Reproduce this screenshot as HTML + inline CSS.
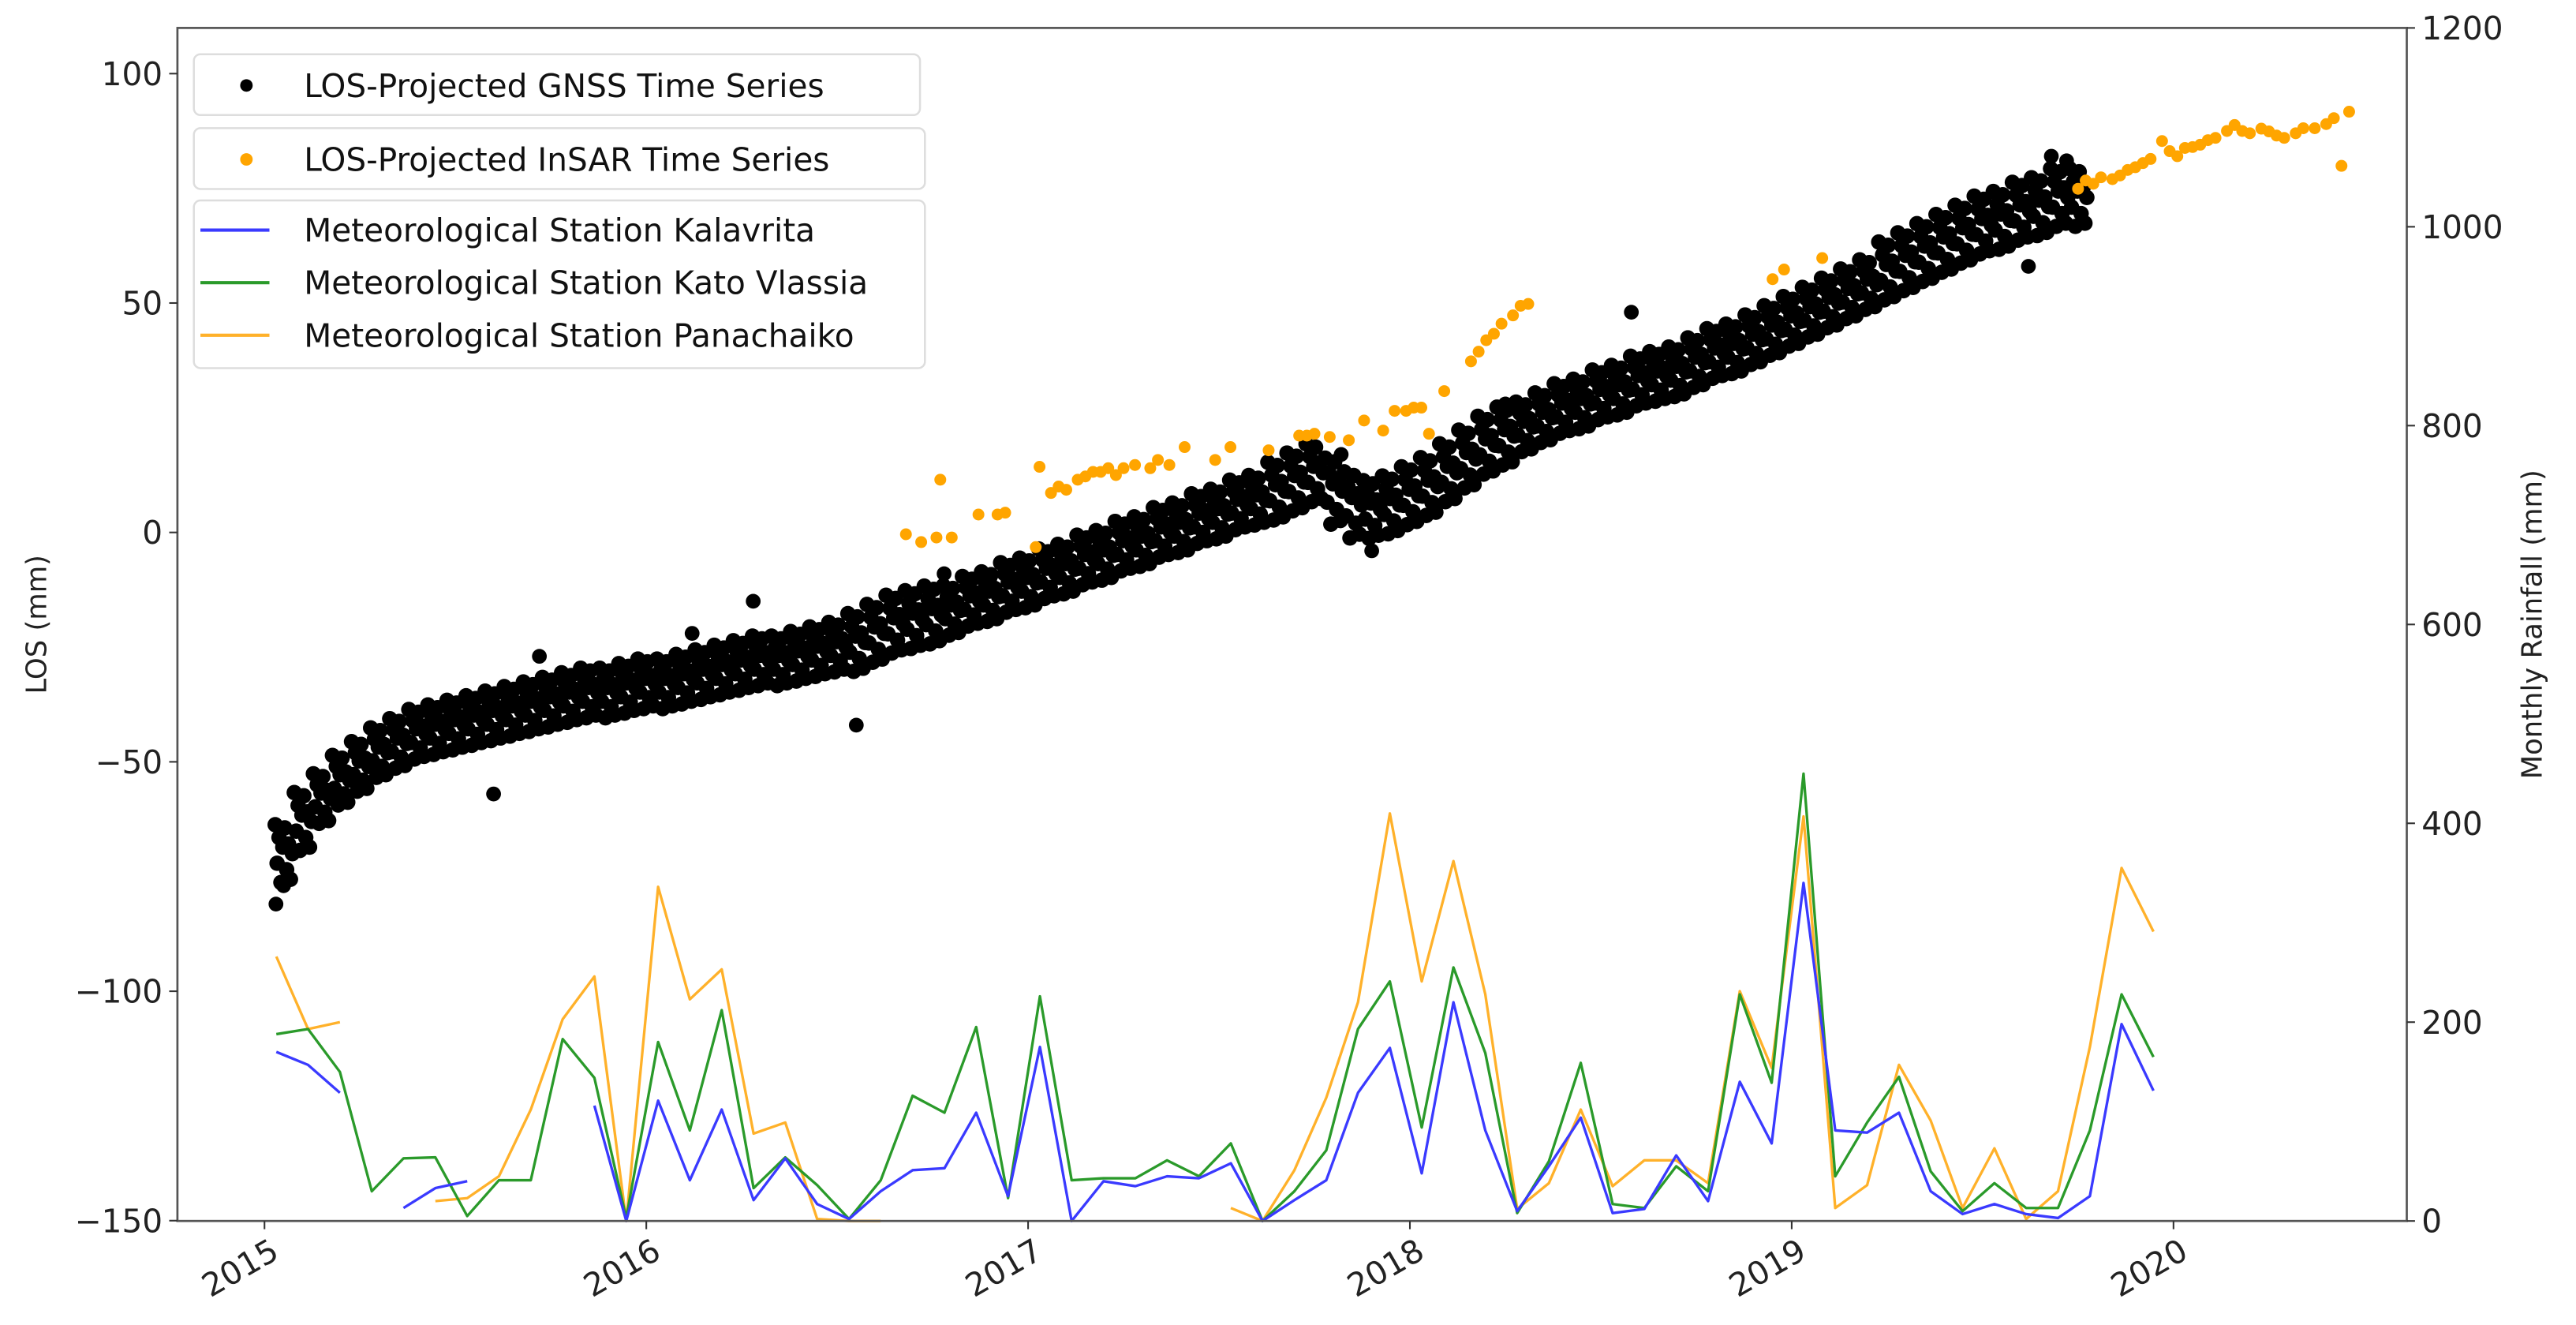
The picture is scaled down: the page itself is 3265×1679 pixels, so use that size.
<!DOCTYPE html>
<html><head><meta charset="utf-8"><style>
html,body{margin:0;padding:0;background:#fff;}
svg{display:block;font-family:"DejaVu Sans","Liberation Sans",sans-serif;}
</style></head><body>
<svg id="chart" width="3265" height="1679" viewBox="0 0 1568 806.3" preserveAspectRatio="none" xmlns="http://www.w3.org/2000/svg">
<rect width="1568" height="806.3" fill="#fff"/>
<g id="marks"></g>
<g id="axes"></g>
<g id="legends"></g>
</svg>
<script>
// ---- data ----
const kalavrita = [170,157,129,null,13,33,40,null,null,null,116,0,121,41,112,21,63,17,2,30,51,53,109,25,175,0,40,35,45,43,58,0,21,41,129,174,48,220,91,10,55,104,8,12,66,20,140,78,340,91,89,109,30,7,17,7,3,25,198,131];
const katoVlassia = [188,193,150,30,63,64,5,41,41,183,144,3,180,91,212,33,64,36,2,41,126,109,195,23,226,41,43,43,61,45,78,0,30,71,193,241,94,255,169,8,60,159,17,13,55,30,228,139,450,45,99,145,50,10,38,13,13,91,228,165];
const panachaiko = [266,193,200,null,null,20,23,45,112,203,246,0,336,223,253,88,99,2,0,0,null,null,null,null,null,null,null,null,null,null,13,0,51,124,220,410,241,362,228,12,38,112,35,61,61,38,231,154,407,13,36,157,101,13,73,2,30,175,355,291];
const gnssStart = 2015.05, gnssStep = 0.05;
const gnssMid = [-70,-63,-58,-54,-51,-48,-46,-44,-43,-42,-41,-40,-39,-38,-37,-36,-35,-35,-34,-33,-33,-32,-31,-30,-29,-28,-28,-27,-26,-25,-24,-22,-20,-19,-18,-17,-15,-14,-12,-11,-9,-8,-6,-5,-3,-2,0,1,3,4,6,7,9,11,13,9,6,5,6,8,10,13,16,19,21,23,25,27,28,30,31,33,34,35,37,39,40,42,44,46,48,50,52,54,57,59,61,63,65,67,68,70,71,73,73];
const gnssSpread = [7,7,6,6,6,6,6,6,6,6,6,6,6,6,6,6,6,6,6,6,6,6,6,6,6,6,6,6,6,6,7,7,7,7,7,6,6,6,6,6,6,6,6,6,6,6,6,6,6,6,6,6,7,7,7,8,8,7,7,7,7,7,7,7,7,6,6,6,6,6,6,6,6,6,6,6,6,6,6,6,6,6,6,6,7,7,7,7,7,7,7,7,7,7,7];
const gnssOutT = [2015.03,2015.05,2015.72,2016.12,2016.28,2016.55,2016.78,2017.9,2018.25,2018.58,2019.62,2019.68,2019.72,2017.82,2015.6,2016.9];
const gnssOutV = [-81,-77,-27,-22,-15,-42,-9,-4,28,48,58,82,81,17,-57,-10];
const insarT = [2016.68,2016.72,2016.76,2016.80,2016.77,2016.87,2016.92,2016.94,2017.02,2017.03,2017.06,2017.08,2017.10,2017.13,2017.15,2017.17,2017.19,2017.21,2017.23,2017.25,2017.28,2017.32,2017.34,2017.37,2017.41,2017.49,2017.53,2017.63,2017.71,2017.73,2017.75,2017.79,2017.84,2017.88,2017.93,2017.96,2017.99,2018.01,2018.03,2018.05,2018.09,2018.16,2018.18,2018.20,2018.22,2018.24,2018.27,2018.29,2018.31,2018.95,2018.98,2019.08,2019.75,2019.77,2019.79,2019.81,2019.84,2019.86,2019.88,2019.90,2019.92,2019.94,2019.97,2019.99,2020.01,2020.03,2020.05,2020.07,2020.09,2020.11,2020.14,2020.16,2020.18,2020.20,2020.23,2020.25,2020.27,2020.29,2020.32,2020.34,2020.37,2020.40,2020.42,2020.44,2020.46];
const insarV = [-0.4,-2.1,-1.1,-1.1,11.5,3.9,3.9,4.3,-3.2,14.3,8.6,10.0,9.3,11.5,12.2,13.2,13.2,14.0,12.5,14.0,14.7,14.0,15.8,14.7,18.6,15.8,18.6,17.9,21.1,21.1,21.5,20.8,20.1,24.4,22.2,26.5,26.5,27.2,27.2,21.5,30.8,37.3,39.4,41.9,43.3,45.5,47.3,49.4,49.8,55.2,57.3,59.8,74.9,76.7,76.0,77.4,77.0,77.8,79.0,79.6,80.5,81.4,85.3,83.1,82.0,83.8,84.0,84.5,85.5,86.0,87.5,88.8,87.5,87.0,88.0,87.4,86.5,86.0,87.0,88.1,88.1,89.0,90.3,79.9,91.7];
const leftTicks = [100,50,0,-50,-100,-150];
const rightTicks = [0,200,400,600,800,1000,1200];
const yearTicks = [2015,2016,2017,2018,2019,2020];

// ---- axes functions ----
const PL=108, PR=1465, PT=17, PB=743;
const xs = t => 161 + (t-2015)*232.4;
const yl = v => 324 - v*2.792;
const yr = v => 743 - v*0.605;
const NS='http://www.w3.org/2000/svg';
function mk(tag, attrs, parent){const e=document.createElementNS(NS,tag);for(const k in attrs)e.setAttribute(k,attrs[k]);parent.appendChild(e);return e;}
const marks=document.getElementById('marks'), axes=document.getElementById('axes'), leg=document.getElementById('legends');

// GNSS
const gG = mk('g',{},marks);


const jit = [[-0.022,0.9],[-0.017,-0.3],[-0.012,0.5],[-0.007,-0.9],[-0.002,0.2],[0.003,0.8],[0.008,-0.5],[0.013,0.3],[0.018,-0.8],[0.023,0.0]];
gnssMid.forEach((m,i)=>{
  const t=gnssStart+i*gnssStep, s=gnssSpread[i];
  jit.forEach(j=>{
    const c=mk('circle',{cx:xs(t+j[0]),cy:yl(m+s*j[1]),r:4.7,fill:'#000'},gG);
    
    
  });
});
gnssOutT.forEach((t,i)=>{
  const c=mk('circle',{cx:xs(t),cy:yl(gnssOutV[i]),r:4.5,fill:'#000'},gG);
  
  
});
// InSAR
const gI = mk('g',{},marks);


insarT.forEach((t,i)=>{
  const c=mk('circle',{cx:xs(t),cy:yl(insarV[i]),r:3.6,fill:'#ffa500'},gI);
  
  
});
// rainfall lines
function rainLine(arr,color,name){
  let d='', pen=false;
  arr.forEach((v,i)=>{
    if(v===null){pen=false;return;}
    const t=2015+(i+0.37)/12;
    d+=(pen?'L':'M')+xs(t).toFixed(1)+','+yr(v).toFixed(1)+' ';
    pen=true;
  });
  const p=mk('path',{d:d,fill:'none',stroke:color,'stroke-width':1.6,'stroke-linejoin':'round'},marks);
  
  
}
rainLine(panachaiko,'#ffb12a','rainfall-panachaiko-line');
rainLine(katoVlassia,'#2a9a2a','rainfall-kato-vlassia-line');
rainLine(kalavrita,'#3a3aff','rainfall-kalavrita-line');

// frame
const fr=mk('rect',{x:PL,y:PT,width:PR-PL,height:PB-PT,fill:'none',stroke:'#555','stroke-width':1.3},axes);


leftTicks.forEach(v=>{
  const y=yl(v);
  mk('line',{x1:PL-5,x2:PL,y1:y,y2:y,stroke:'#333','stroke-width':1},axes);
  const t=mk('text',{x:PL-9,y:y+7,'text-anchor':'end','font-size':19.5,fill:'#222'},axes);
  t.textContent=v<0?'\u2212'+(-v):String(v);
  
  
});
rightTicks.forEach(v=>{
  const y=yr(v);
  mk('line',{x1:PR,x2:PR+5,y1:y,y2:y,stroke:'#333','stroke-width':1},axes);
  const t=mk('text',{x:PR+9,y:y+7,'text-anchor':'start','font-size':19.5,fill:'#222'},axes);
  t.textContent=String(v);
  
  
});
yearTicks.forEach(yv=>{
  const x=xs(yv);
  mk('line',{x1:x,x2:x,y1:PB,y2:PB+5,stroke:'#333','stroke-width':1},axes);
  const t=mk('text',{x:x+10,y:PB+22,'text-anchor':'end','font-size':19.5,fill:'#222',transform:'rotate(-30 '+(x+10)+' '+(PB+22)+')'},axes);
  t.textContent=String(yv);
  
  
});
const yt=mk('text',{x:28,y:380,'text-anchor':'middle','font-size':17,fill:'#222',transform:'rotate(-90 28 380)'},axes);
yt.textContent='LOS (mm)';


const yt2=mk('text',{x:1547,y:380,'text-anchor':'middle','font-size':17,fill:'#222',transform:'rotate(-90 1547 380)'},axes);
yt2.textContent='Monthly Rainfall (mm)';



// legends
function box(x,y,w,h,name){const r=mk('rect',{x:x,y:y,width:w,height:h,rx:4,fill:'#fff','fill-opacity':0.85,stroke:'#ddd','stroke-width':1.2},leg);}
function label(x,y,s,name){const t=mk('text',{x:x,y:y,'font-size':19.5,fill:'#111'},leg);t.textContent=s;}
box(118,33,442,37,'legend-gnss');
mk('circle',{cx:150,cy:52,r:3.8,fill:'#000'},leg);
label(185,59,'LOS-Projected GNSS Time Series','legend-gnss-label');
box(118,78,445,37,'legend-insar');
mk('circle',{cx:150,cy:97,r:3.8,fill:'#ffa500'},leg);
label(185,104,'LOS-Projected InSAR Time Series','legend-insar-label');
box(118,122,445,102,'legend-stations');
[['#3a3aff','Meteorological Station Kalavrita',140,'legend-kalavrita'],['#2a9a2a','Meteorological Station Kato Vlassia',172,'legend-kato-vlassia'],['#ffb12a','Meteorological Station Panachaiko',204,'legend-panachaiko']].forEach(e=>{
  mk('line',{x1:122,x2:164,y1:e[2],y2:e[2],stroke:e[0],'stroke-width':2},leg);
  label(185,e[2]+7,e[1],e[3]);
});
</script>
</body></html>
